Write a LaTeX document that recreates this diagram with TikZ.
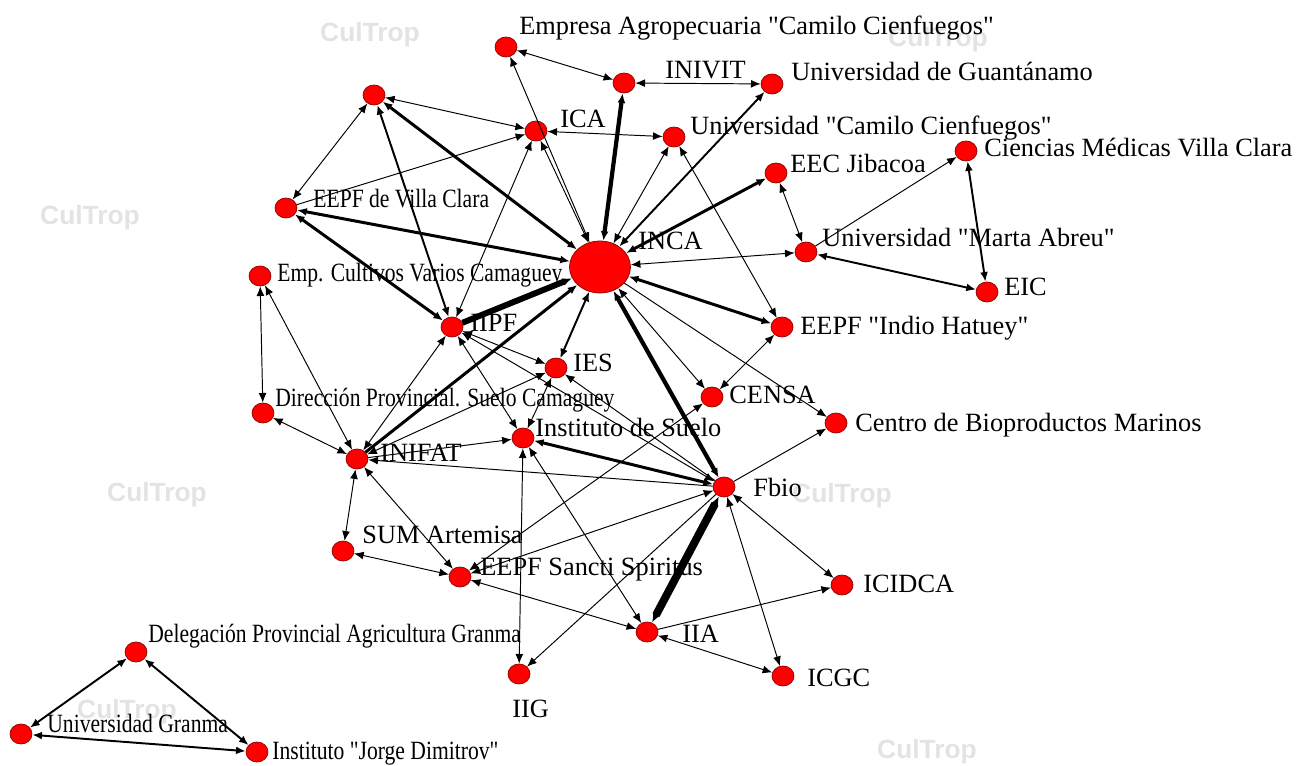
\documentclass[tikz,border=0pt]{standalone}
\usepackage{fontspec}
\setmainfont{Liberation Serif}
\setsansfont{Liberation Sans}
\newfontfamily\labfont{Liberation Serif}
\newfontfamily\narrowfont{Liberation Serif}[FakeStretch=0.82]
\usetikzlibrary{arrows.meta,shapes.geometric}

\begin{document}
\begin{tikzpicture}[x=0.02cm, y=-0.02cm]
	    \tikzset{>={Latex[length=5.5pt,width=4.5pt]}}
	    \tikzset{inst/.style={ellipse, draw=red!55!black, fill=red, minimum width=0.44cm, minimum height=0.40cm, inner sep=0pt},
	             hub/.style={inst, minimum width=1.22cm, minimum height=1.04cm},
	             lab/.style={anchor=base west, inner sep=0pt, font=\labfont\fontsize{15}{17}\selectfont},
	             narrowlab/.style={lab, font=\narrowfont\fontsize{15}{17}\selectfont},
	             wmark/.style={text=gray!22, inner sep=0pt, font=\sffamily\bfseries\fontsize{15}{15}\selectfont},
	             tie1/.style={<->, line width=0.55pt},
	             tie2/.style={<->, line width=1.1pt},
	             tie3/.style={<->, line width=1.7pt},
	             tie4/.style={<->, line width=2.4pt},
	             tie5/.style={line width=3.4pt},
	             tie6/.style={<->, line width=4.5pt}}
	    \useasboundingbox (0,0) rectangle (1296,766);
	    % watermarks
	    \node[wmark] (wm1) at (370,35) {CulTrop};
	    \node[wmark] (wm2) at (90,218) {CulTrop};
	    \node[wmark] (wm3) at (157,495) {CulTrop};
	    \node[wmark] (wm4) at (842,496) {CulTrop};
	    \node[wmark] (wm5) at (938,40) {CulTrop};
	    \node[wmark] (wm6) at (927,752) {CulTrop};
	    \node[wmark] (wm7) at (127,712) {CulTrop};
	    % institutions
	    \node[inst] (eac) at (506,47) {};
	    \node[inst] (inivit) at (624,83) {};
	    \node[inst] (ugt) at (772,84) {};
	    \node[inst] (nn) at (374,95) {};
	    \node[inst] (ica) at (536,131) {};
	    \node[inst] (ucc) at (674,137) {};
	    \node[inst] (eec) at (776,173) {};
	    \node[inst] (cmvc) at (966,151) {};
	    \node[inst] (eepfvc) at (286,208) {};
	    \node[hub] (inca) at (600,267) {};
	    \node[inst] (uma) at (806,252) {};
	    \node[inst] (ecvc) at (260,276) {};
	    \node[inst] (eic) at (987,292) {};
	    \node[inst] (iipf) at (452,327) {};
	    \node[inst] (eepfih) at (782,327) {};
	    \node[inst] (ies) at (556,368) {};
	    \node[inst] (censa) at (712,397) {};
	    \node[inst] (dpsc) at (263,413) {};
	    \node[inst] (cbm) at (836,423) {};
	    \node[inst] (isuelo) at (523,438) {};
	    \node[inst] (inifat) at (357,459) {};
	    \node[inst] (fbio) at (724,487) {};
	    \node[inst] (sum) at (343,551) {};
	    \node[inst] (eepfss) at (460,577) {};
	    \node[inst] (icidca) at (842,585) {};
	    \node[inst] (iia) at (647,632) {};
	    \node[inst] (dpag) at (136,652) {};
	    \node[inst] (iig) at (519,674) {};
	    \node[inst] (icgc) at (783,676) {};
	    \node[inst] (ugr) at (21,734) {};
	    \node[inst] (ijd) at (257,752) {};
	    % names
	    \node[lab] (eac-l) at (519,35) {Empresa Agropecuaria "Camilo Cienfuegos"};
	    \node[lab] (inivit-l) at (665,79) {INIVIT};
	    \node[lab] (ugt-l) at (791,81) {Universidad de Guantánamo};
	    \node[lab] (ica-l) at (560,128) {ICA};
	    \node[lab] (ucc-l) at (690,135) {Universidad "Camilo Cienfuegos"};
	    \node[lab] (eec-l) at (790,173) {EEC Jibacoa};
	    \node[lab] (cmvc-l) at (984,157) {Ciencias Médicas Villa Clara};
	    \node[narrowlab] (eepfvc-l) at (313,208) {EEPF de Villa Clara};
	    \node[lab] (inca-l) at (638,250) {INCA};
	    \node[lab] (uma-l) at (822,247) {Universidad "Marta Abreu"};
	    \node[narrowlab] (ecvc-l) at (277,282) {Emp. Cultivos Varios Camaguey};
	    \node[lab] (eic-l) at (1004,296) {EIC};
	    \node[lab] (iipf-l) at (470,332) {IIPF};
	    \node[lab] (eepfih-l) at (800,335) {EEPF "Indio Hatuey"};
	    \node[lab] (ies-l) at (573,372) {IES};
	    \node[lab] (censa-l) at (729,404) {CENSA};
	    \node[narrowlab] (dpsc-l) at (275,407) {Dirección Provincial. Suelo Camaguey};
	    \node[lab] (cbm-l) at (855,432) {Centro de Bioproductos Marinos};
	    \node[lab] (isuelo-l) at (535,437) {Instituto de Suelo};
	    \node[lab] (inifat-l) at (380,462) {INIFAT};
	    \node[lab] (fbio-l) at (753,497) {Fbio};
	    \node[lab] (sum-l) at (362,544) {SUM Artemisa};
	    \node[lab] (eepfss-l) at (480,576) {EEPF Sancti Spiritus};
	    \node[lab] (icidca-l) at (863,593) {ICIDCA};
	    \node[lab] (iia-l) at (682,643) {IIA};
	    \node[narrowlab] (dpag-l) at (148,643) {Delegación Provincial Agricultura Granma};
	    \node[lab] (iig-l) at (512,718) {IIG};
	    \node[lab] (icgc-l) at (807,687) {ICGC};
	    \node[narrowlab] (ugr-l) at (47,733) {Universidad Granma};
	    \node[narrowlab] (ijd-l) at (272,760) {Instituto "Jorge Dimitrov"};
	    % ties around INCA
	    \draw[tie1] (eac) -- (inivit);
	    \draw[tie1] (eac) -- (inca);
	    \draw[tie1] (nn) -- (ica);
	    \draw[tie1] (nn) -- (eepfvc);
	    \draw[tie2] (nn) -- (iipf);
	    \draw[tie3] (nn) -- (inca);
	    \draw[tie1,->] (eepfvc) -- (ica);
	    \draw[tie3] (eepfvc) -- (inca);
	    \draw[tie3] (eepfvc) -- (iipf);
	    \draw[tie1] (ica) -- (ucc);
	    \draw[tie1] (iipf) -- (ica);
	    \draw[tie1] (ica) -- (inca);
	    \draw[tie1] (inivit) -- (ugt);
	    \draw[tie4] (inca) -- (inivit);
	    \draw[tie1] (inca) -- (ucc);
	    \draw[tie2] (inca) -- (ugt);
	    \draw[tie3] (inca) -- (eec);
	    \draw[tie1] (ucc) -- (eepfih);
	    \draw[tie1] (eec) -- (uma);
	    \draw[tie1,->] (uma) -- (cmvc);
	    \draw[tie2] (cmvc) -- (eic);
	    \draw[tie2] (uma) -- (eic);
	    \draw[tie1] (uma) -- (inca);
	    \draw[tie3] (inca) -- (eepfih);
	    \draw[tie1] (inca) -- (censa);
	    \draw[tie1,->] (inca) -- (cbm);
	    \draw[tie4] (inca) -- (fbio);
	    \draw[tie2] (inca) -- (ies);
	    \draw[tie5,->] (iipf) -- (inca);
	    \draw[tie3,->] (inifat) -- (inca);
	    % ties on the left
	    \draw[tie1] (ecvc) -- (dpsc);
	    \draw[tie1] (ecvc) -- (inifat);
	    \draw[tie1] (dpsc) -- (inifat);
	    \draw[tie1] (inifat) -- (iipf);
	    \draw[tie1] (inifat) -- (ies);
	    \draw[tie1,->] (inifat) -- (isuelo);
	    \draw[tie1,->] (fbio) -- (inifat);
	    \draw[tie1] (inifat) -- (sum);
	    \draw[tie1] (inifat) -- (eepfss);
	    \draw[tie1] (sum) -- (eepfss);
	    \draw[tie1] (iipf) -- (ies);
	    \draw[tie1] (iipf) -- (isuelo);
	    \draw[tie1] (iipf) -- (fbio);
	    \draw[tie1] (ies) -- (isuelo);
	    \draw[tie1,->] (fbio) -- (ies);
	    % ties around Fbio
	    \draw[tie3] (fbio) -- (isuelo);
	    \draw[tie1] (isuelo) -- (iig);
	    \draw[tie1] (isuelo) -- (iia);
	    \draw[tie1] (censa) -- (eepfih);
	    \draw[tie1] (censa) -- (eepfss);
	    \draw[tie1] (fbio) -- (eepfss);
	    \draw[tie1,->] (fbio) -- (iig);
	    \draw[tie1,->] (fbio) -- (cbm);
	    \draw[tie6] (fbio) -- (iia);
	    \draw[tie1] (fbio) -- (icidca);
	    \draw[tie1] (fbio) -- (icgc);
	    \draw[tie1,->] (iia) -- (icidca);
	    \draw[tie1] (iia) -- (icgc);
	    \draw[tie1] (eepfss) -- (iia);
	    % Granma
	    \draw[tie2] (ugr) -- (dpag);
	    \draw[tie2] (dpag) -- (ijd);
	    \draw[tie2] (ugr) -- (ijd);
	\end{tikzpicture}
\end{document}
